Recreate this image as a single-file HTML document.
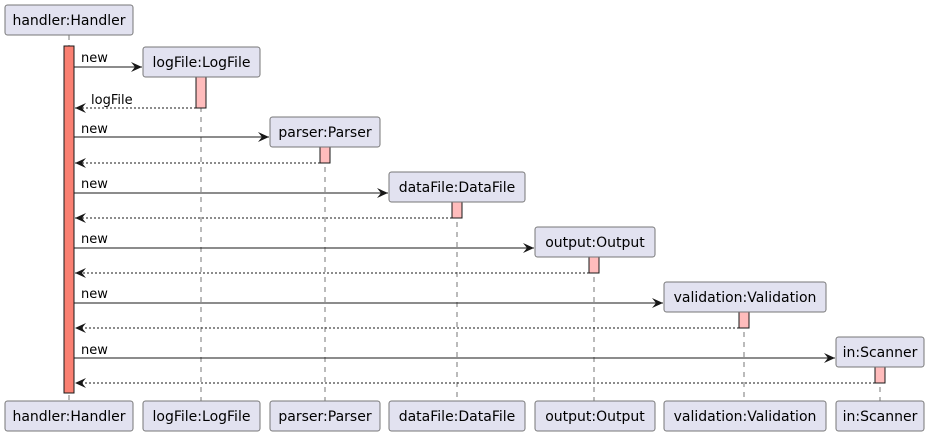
<!DOCTYPE html>
<html><head><style>body{margin:0;background:#fff}svg{display:block}text{font-family:"DejaVu Sans","Liberation Sans",sans-serif}</style></head><body>
<svg width="930" height="437" xmlns="http://www.w3.org/2000/svg">
<defs><marker id="a" markerWidth="12" markerHeight="10" refX="11" refY="5" orient="auto" markerUnits="userSpaceOnUse"><path d="M0,0 L11,5 L0,10 L4,5 Z" fill="#181818"/></marker></defs>
<g stroke="#777" stroke-dasharray="5,5" stroke-width="1">
<line x1="69" y1="35" x2="69" y2="401"/>
<line x1="201" y1="77" x2="201" y2="401"/>
<line x1="325" y1="147" x2="325" y2="401"/>
<line x1="457" y1="202" x2="457" y2="401"/>
<line x1="594" y1="257" x2="594" y2="401"/>
<line x1="744" y1="312" x2="744" y2="401"/>
<line x1="880" y1="367" x2="880" y2="401"/>
</g>
<rect x="64" y="46" width="10" height="347" fill="#FA8072" stroke="#181818"/>
<g fill="#FFBCBC" stroke="#181818">
<rect x="196" y="77" width="10" height="31"/>
<rect x="320" y="147" width="10" height="16"/>
<rect x="452" y="202" width="10" height="16"/>
<rect x="589" y="257" width="10" height="16"/>
<rect x="739" y="312" width="10" height="16"/>
<rect x="875" y="367" width="10" height="16"/>
</g>
<g fill="#E2E2F0" stroke="#777" stroke-width="1">
<rect x="5" y="5" width="128" height="30" rx="2.5"/>
<rect x="143" y="47" width="117" height="30" rx="2.5"/>
<rect x="270" y="117" width="110" height="30" rx="2.5"/>
<rect x="389" y="172" width="136" height="30" rx="2.5"/>
<rect x="535" y="227" width="120" height="30" rx="2.5"/>
<rect x="664" y="282" width="162" height="30" rx="2.5"/>
<rect x="836" y="337" width="88" height="30" rx="2.5"/>
<rect x="5" y="401" width="128" height="30" rx="2.5"/>
<rect x="143" y="401" width="117" height="30" rx="2.5"/>
<rect x="270" y="401" width="110" height="30" rx="2.5"/>
<rect x="389" y="401" width="136" height="30" rx="2.5"/>
<rect x="535" y="401" width="120" height="30" rx="2.5"/>
<rect x="664" y="401" width="162" height="30" rx="2.5"/>
<rect x="836" y="401" width="88" height="30" rx="2.5"/>
</g>
<g font-size="14" fill="#000" text-anchor="middle">
<text x="69" y="25">handler:Handler</text>
<text x="201.5" y="67">logFile:LogFile</text>
<text x="325" y="137">parser:Parser</text>
<text x="457" y="192">dataFile:DataFile</text>
<text x="595" y="247">output:Output</text>
<text x="745" y="302">validation:Validation</text>
<text x="880" y="357">in:Scanner</text>
<text x="69" y="421">handler:Handler</text>
<text x="201.5" y="421">logFile:LogFile</text>
<text x="325" y="421">parser:Parser</text>
<text x="457" y="421">dataFile:DataFile</text>
<text x="595" y="421">output:Output</text>
<text x="745" y="421">validation:Validation</text>
<text x="880" y="421">in:Scanner</text>
</g>
<g stroke="#181818" stroke-width="1" marker-end="url(#a)">
<line x1="74" y1="67" x2="142" y2="67"/>
<line x1="74" y1="137" x2="269" y2="137"/>
<line x1="74" y1="193" x2="388" y2="193"/>
<line x1="74" y1="248" x2="534" y2="248"/>
<line x1="74" y1="303" x2="663" y2="303"/>
<line x1="74" y1="358" x2="835" y2="358"/>
</g>
<g stroke="#181818" stroke-width="1" stroke-dasharray="2,2" marker-end="url(#a)">
<line x1="196" y1="108" x2="75" y2="108"/>
<line x1="320" y1="163" x2="75" y2="163"/>
<line x1="452" y1="218" x2="75" y2="218"/>
<line x1="589" y1="273" x2="75" y2="273"/>
<line x1="739" y1="328" x2="75" y2="328"/>
<line x1="875" y1="383" x2="75" y2="383"/>
</g>
<g font-size="13" fill="#000">
<text x="81" y="62">new</text>
<text x="91" y="104">logFile</text>
<text x="81" y="133">new</text>
<text x="81" y="188">new</text>
<text x="81" y="243">new</text>
<text x="81" y="298">new</text>
<text x="81" y="354">new</text>
</g>
</svg>
</body></html>
